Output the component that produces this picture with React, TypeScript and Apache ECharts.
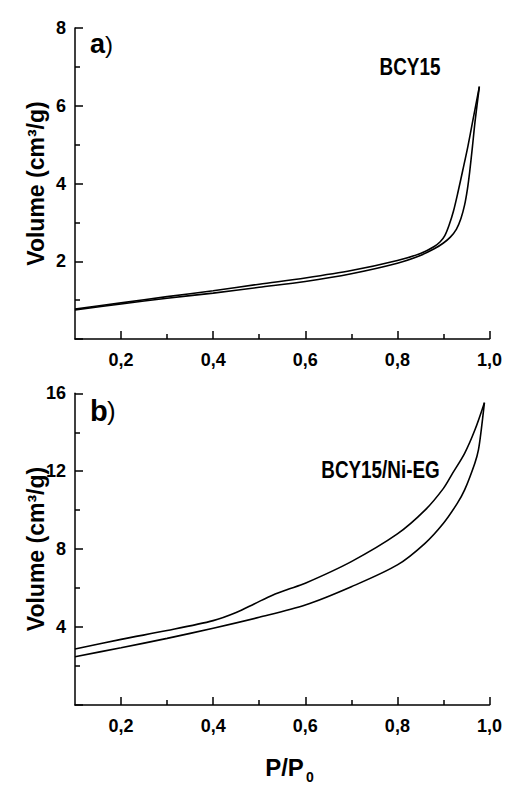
import React, { useEffect, useRef } from "react";
import * as echarts from "echarts";

// ---- data ----
const xMajorTicks = [0.2, 0.4, 0.6, 0.8, 1.0];
const xMinorTicks = [0.3, 0.5, 0.7, 0.9];

// panel a) BCY15 : [P/P0, Volume]
const bcyAdsorption = [
  [0.1, 0.75], [0.2, 0.9], [0.3, 1.05], [0.4, 1.18], [0.5, 1.33], [0.6, 1.48],
  [0.7, 1.68], [0.8, 1.95], [0.85, 2.15], [0.88, 2.32], [0.9, 2.47], [0.915, 2.62],
  [0.928, 2.82], [0.938, 3.1], [0.946, 3.45], [0.952, 3.85], [0.957, 4.3],
  [0.963, 4.95], [0.969, 5.63], [0.978, 6.49],
];
const bcyDesorption = [
  [0.978, 6.49], [0.964, 5.63], [0.953, 4.95], [0.942, 4.34], [0.932, 3.8],
  [0.922, 3.3], [0.912, 2.92], [0.903, 2.66], [0.893, 2.5], [0.88, 2.38], [0.85, 2.2],
  [0.8, 2.02], [0.7, 1.76], [0.6, 1.57], [0.5, 1.41], [0.4, 1.24], [0.3, 1.09],
  [0.2, 0.93], [0.1, 0.77],
];

// panel b) BCY15/Ni-EG
const niAdsorption = [
  [0.1, 2.48], [0.2, 2.94], [0.3, 3.42], [0.4, 3.94], [0.5, 4.5], [0.6, 5.13],
  [0.7, 6.07], [0.8, 7.19], [0.86, 8.3], [0.9, 9.33], [0.93, 10.35], [0.946, 11.04],
  [0.968, 12.4], [0.976, 13.1], [0.982, 14.1], [0.989, 15.52],
];
const niDesorption = [
  [0.989, 15.52], [0.968, 14.1], [0.946, 12.92], [0.92, 11.9], [0.9, 11.12], [0.86, 10.0],
  [0.8, 8.78], [0.7, 7.36], [0.6, 6.25], [0.56, 5.92], [0.53, 5.65], [0.49, 5.2],
  [0.45, 4.75], [0.4, 4.33], [0.3, 3.82], [0.2, 3.37], [0.1, 2.87],
];

const FONT = "'Liberation Sans', Arial, sans-serif";

export default function App() {
  const ref = useRef<HTMLDivElement>(null);

  useEffect(() => {
    const chart = echarts.init(ref.current!, null, { renderer: "svg" });
    const black = "#000";
    const fmtX = (v: number) => v.toFixed(1).replace(".", ",");

    const mainX = (gridIndex: number) => ({
      type: "value",
      gridIndex,
      position: "bottom",
      min: 0.1,
      max: 1.0,
      axisLine: { show: true, lineStyle: { color: black, width: 1.5 } },
      axisTick: { show: true, inside: true, length: 8, lineStyle: { color: black, width: 1.5 }, customValues: xMajorTicks },
      axisLabel: {
        show: true, margin: 12, customValues: xMajorTicks, formatter: fmtX,
        color: black, fontFamily: FONT, fontWeight: "bold", fontSize: 18,
      },
      splitLine: { show: false },
    });
    const minorX = (gridIndex: number) => ({
      type: "value",
      gridIndex,
      position: "bottom",
      min: 0.1,
      max: 1.0,
      axisLine: { show: false },
      axisTick: { show: true, inside: true, length: 5, lineStyle: { color: black, width: 1.5 }, customValues: xMinorTicks },
      axisLabel: { show: false },
      splitLine: { show: false },
    });
    const yAx = (gridIndex: number, max: number, interval: number) => ({
      type: "value",
      gridIndex,
      min: 0,
      max,
      interval,
      axisLine: { show: true, lineStyle: { color: black, width: 1.5 } },
      axisTick: { show: true, inside: true, length: 8, lineStyle: { color: black, width: 1.5 } },
      minorTick: { show: true, splitNumber: 2, length: 5, lineStyle: { color: black, width: 1.5 } },
      axisLabel: {
        show: true, margin: 9, showMinLabel: false,
        color: black, fontFamily: FONT, fontWeight: "bold", fontSize: 18,
      },
      splitLine: { show: false },
      minorSplitLine: { show: false },
    });
    const line = (xAxisIndex: number, yAxisIndex: number, data: number[][]) => ({
      type: "line",
      xAxisIndex,
      yAxisIndex,
      data,
      showSymbol: false,
      smooth: 0.3,
      lineStyle: { color: black, width: 1.6 },
      silent: true,
    });
    const txt = (x: number, y: number, text: string, fontSize: number, extra: any = {}) => ({
      type: "text",
      x,
      y,
      silent: true,
      ...extra,
      style: {
        text,
        fill: black,
        fontFamily: FONT,
        fontWeight: "bold",
        fontSize,
        align: "center",
        verticalAlign: "middle",
        ...(extra.style || {}),
      },
    });

    chart.setOption({
      animation: false,
      backgroundColor: "#fff",
      grid: [
        { left: 75, top: 28, width: 416.7, height: 311 },
        { left: 75, top: 393.3, width: 416.7, height: 311.7 },
      ],
      xAxis: [mainX(0), minorX(0), mainX(1), minorX(1)],
      yAxis: [yAx(0, 8, 2), yAx(1, 16, 4)],
      series: [
        line(0, 0, bcyAdsorption),
        line(0, 0, bcyDesorption),
        line(2, 1, niAdsorption),
        line(2, 1, niDesorption),
      ],
      graphic: [
        txt(36, 183.5, "Volume (cm³/g)", 23, { rotation: Math.PI / 2 }),
        txt(36, 549, "Volume (cm³/g)", 23, { rotation: Math.PI / 2 }),
        txt(90, 44, "a", 27, { style: { align: "left" } }),
        txt(105, 44, ")", 24, { style: { align: "left", fontWeight: "normal" } }),
        txt(90, 411, "b", 29, { style: { align: "left" } }),
        txt(107, 411, ")", 26, { style: { align: "left", fontWeight: "normal" } }),
        txt(410, 67, "BCY15", 23, { scaleX: 0.82 }),
        txt(380.5, 470, "BCY15/Ni-EG", 23, { scaleX: 0.82 }),
        txt(284.5, 767.5, "P/P", 24),
        txt(310, 777, "0", 14),
      ],
    });

    return () => chart.dispose();
  }, []);

  return (
    <div
      ref={ref}
      style={{ position: "fixed", left: 0, top: 0, width: 505, height: 787, background: "#fff" }}
    />
  );
}
